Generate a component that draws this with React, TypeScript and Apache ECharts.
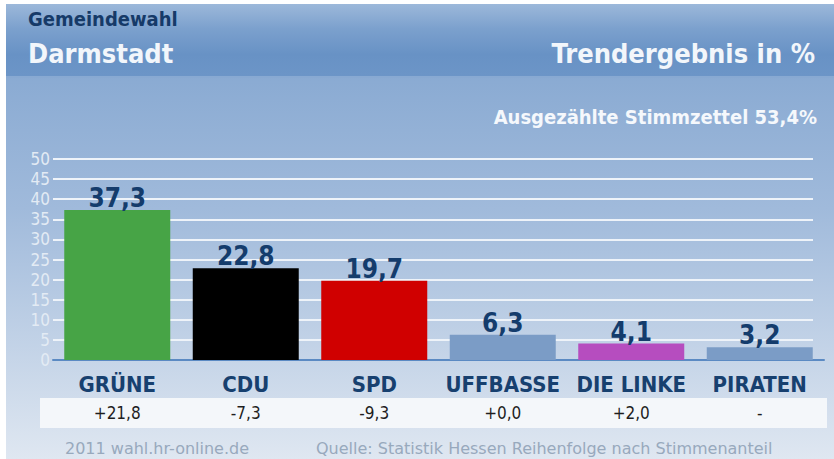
import React, { useEffect, useRef } from "react";
import * as echarts from "echarts";

const parties = ["GRÜNE", "CDU", "SPD", "UFFBASSE", "DIE LINKE", "PIRATEN"];
const shares = [37.3, 22.8, 19.7, 6.3, 4.1, 3.2];
const changes = ["+21,8", "-7,3", "-9,3", "+0,0", "+2,0", "-"];
const barColors = ["#47a446", "#000000", "#d00000", "#7b9cc6", "#b64dbf", "#7b9cc6"];
const yTicks = [0, 5, 10, 15, 20, 25, 30, 35, 40, 45, 50];

const FONT = "'DejaVu Sans Condensed', 'Liberation Sans Narrow', 'DejaVu Sans', sans-serif";
const NAVY = "#17406f";

export default function App() {
  const ref = useRef<HTMLDivElement>(null);
  useEffect(() => {
    document.body.style.margin = "0";
    const chart = echarts.init(ref.current!, undefined, { renderer: "svg" });
    const yMin = yTicks[0];
    const yMax = yTicks[yTicks.length - 1];
    const yStep = yTicks[1] - yTicks[0];
    chart.setOption({
      animation: false,
      graphic: [
        { type: "rect", z: -100, shape: { x: 6, y: 4, width: 828, height: 455 },
          style: { fill: new echarts.graphic.LinearGradient(0, 0, 0, 1, [
            { offset: 0, color: "#7ea2ce" },
            { offset: 0.45, color: "#a0badb" },
            { offset: 1, color: "#dfe7f1" },
          ]) } },
        { type: "rect", z: -99, shape: { x: 6, y: 4, width: 828, height: 72 },
          style: { fill: new echarts.graphic.LinearGradient(0, 0, 0, 1, [
            { offset: 0, color: "#9cb8da" },
            { offset: 0.35, color: "#7ba0cd" },
            { offset: 0.7, color: "#6892c5" },
            { offset: 1, color: "#6c95c7" },
          ]) } },
        { type: "rect", z: -98, shape: { x: 6, y: 76, width: 828, height: 2 }, style: { fill: "#88a9d2" } },
        { type: "rect", z: -97, shape: { x: 40, y: 398, width: 787, height: 30 }, style: { fill: "#f4f7fa" } },
        { type: "text", x: 28, y: 19, style: { text: "Gemeindewahl", fill: "#163a68", font: `bold 20px ${FONT}`, textVerticalAlign: "middle" } },
        { type: "text", x: 28, y: 53, style: { text: "Darmstadt", fill: "#f2f6fb", font: `bold 27px ${FONT}`, textVerticalAlign: "middle" } },
        { type: "text", x: 815, y: 53, style: { text: "Trendergebnis in %", fill: "#f2f6fb", font: `bold 27px ${FONT}`, textAlign: "right", textVerticalAlign: "middle" } },
        { type: "text", x: 817, y: 117, style: { text: "Ausgezählte Stimmzettel 53,4%", fill: "#f5f8fc", font: `bold 20px ${FONT}`, textAlign: "right", textVerticalAlign: "middle" } },
        { type: "text", x: 65, y: 448, style: { text: "2011 wahl.hr-online.de", fill: "#98a9bd", font: `16px 'DejaVu Sans', sans-serif`, textVerticalAlign: "middle" } },
        { type: "text", x: 316, y: 448, style: { text: "Quelle: Statistik Hessen Reihenfolge nach Stimmenanteil", fill: "#98a9bd", font: `16px 'DejaVu Sans', sans-serif`, textVerticalAlign: "middle" } },
      ],
      grid: [
        { left: 53, right: 21, top: 159, height: 201 },
        { left: 53, right: 10, top: 159, height: 201 },
      ],
      xAxis: [
        { type: "category", gridIndex: 0, data: parties, show: false },
        {
          type: "category", gridIndex: 1, data: parties, position: "bottom",
          axisLine: { show: true, lineStyle: { color: "#5b8ac3", width: 2 } },
          axisTick: { show: false },
          axisLabel: { interval: 0, hideOverlap: false, margin: 13, color: NAVY, fontFamily: FONT, fontWeight: "bold", fontSize: 22 },
        },
        {
          type: "category", gridIndex: 1, data: changes, position: "bottom", offset: 44,
          axisLine: { show: false }, axisTick: { show: false },
          axisLabel: { interval: 0, margin: 0, color: "#1e1e1e", fontFamily: FONT, fontSize: 17 },
        },
      ],
      yAxis: [
        {
          type: "value", gridIndex: 0, min: yMin, max: yMax, interval: yStep,
          axisLine: { show: false }, axisTick: { show: false },
          axisLabel: { margin: 3, color: "#e3ebf4", fontFamily: FONT, fontSize: 17 },
          splitLine: { show: true, lineStyle: { color: "#eef3f9", width: 2 } },
        },
        {
          type: "value", gridIndex: 1, min: yMin, max: yMax, interval: yStep, show: false,
          splitLine: { show: false },
        },
      ],
      series: [
        {
          type: "bar", xAxisIndex: 1, yAxisIndex: 1, barWidth: 106,
          data: shares.map((v, i) => ({ value: v, itemStyle: { color: barColors[i] } })),
          label: {
            show: true, position: "top", distance: -1, color: "#143c6c", fontFamily: FONT,
            fontWeight: "bold", fontSize: 26,
            formatter: (p: any) => String(p.value.toFixed(1)).replace(".", ","),
          },
        },
      ],
    });
    return () => chart.dispose();
  }, []);
  return <div ref={ref} style={{ width: 834, height: 459 }} />;
}
